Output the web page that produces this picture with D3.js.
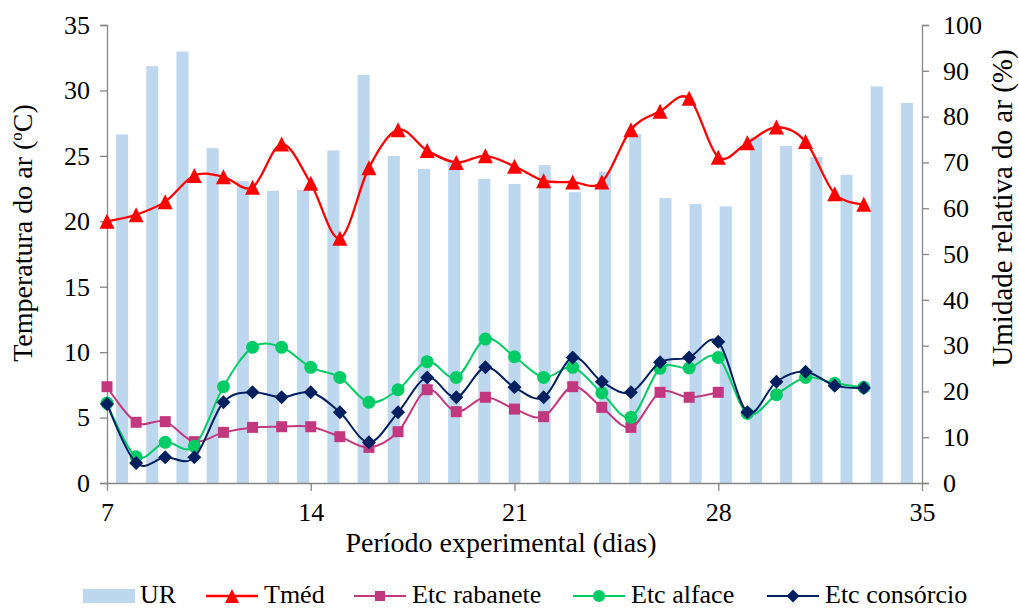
<!DOCTYPE html>
<html>
<head>
<meta charset="utf-8">
<script src="https://cdn.jsdelivr.net/npm/d3@7"></script>
<style>
  html, body { margin: 0; padding: 0; background: #ffffff; }
  svg { display: block; }
  #chart, #chart text, #chart tspan { font-family: "Liberation Serif", "Times New Roman", Tinos !important; }
</style>
</head>
<body>
<svg id="chart" width="1019" height="608" font-family="Liberation Serif"></svg>
<script>
// Experimental days (one observation per day)
const days = [7, 8, 9, 10, 11, 12, 13, 14, 15, 16, 17, 18, 19, 20, 21, 22, 23, 24, 25, 26, 27, 28, 29, 30, 31, 32, 33];

// Relative humidity (%), right axis
const ur = [76.1, 91.0, 94.2, 73.1, 65.9, 63.8, 64.0, 72.6, 89.1, 71.4,
            68.6, 70.2, 66.4, 65.3, 69.4, 63.5, 68.0, 76.2, 62.2, 60.9,
            60.4, 75.5, 73.6, 71.2, 67.3, 86.6, 83.0];

// Mean air temperature (ºC), left axis
const tmed = [20.0, 20.5, 21.5, 23.5, 23.4, 22.6, 25.9, 22.9, 18.7, 24.1,
              27.0, 25.4, 24.5, 25.0, 24.2, 23.1, 23.0, 23.0, 27.0, 28.4,
              29.4, 24.9, 26.0, 27.2, 26.1, 22.1, 21.3];

// Crop evapotranspiration (mm), left axis
const etcRabanete = [7.36, 4.64, 4.69, 3.16, 3.87, 4.25, 4.30, 4.30, 3.54, 2.72,
                     3.92, 7.13, 5.45, 6.55, 5.65, 5.07, 7.36, 5.78, 4.25, 6.93,
                     6.55, 6.93];
const etcAlface = [6.11, 2.0, 3.11, 2.80, 7.36, 10.37, 10.37, 8.84, 8.07, 6.17,
                   7.13, 9.27, 8.07, 11.0, 9.65, 8.07, 8.84, 6.88, 5.02, 8.76,
                   8.79, 9.60, 5.32, 6.75, 8.07, 7.62, 7.31];
const etcConsorcio = [6.04, 1.53, 1.96, 1.96, 6.17, 6.93, 6.55, 6.93, 5.40, 3.11,
                      5.40, 8.07, 6.55, 8.84, 7.31, 6.55, 9.60, 7.74, 6.93, 9.22,
                      9.60, 10.80, 5.40, 7.74, 8.51, 7.44, 7.26];

// Axis ticks
const xTicks = [7, 14, 21, 28, 35];
const yLeftTicks = [0, 5, 10, 15, 20, 25, 30, 35];
const yRightTicks = [0, 10, 20, 30, 40, 50, 60, 70, 80, 90, 100];

const FONT = "Liberation Serif";

const svg = d3.select("#chart");
const plot = { left: 107, right: 922, top: 25, bottom: 483 };
const axisColor = "#868686";

const x = d3.scaleLinear().domain([7, 35]).range([plot.left, plot.right]);
const xBand = d3.scaleBand().domain(days).range([plot.left, plot.right])
  .paddingInner(0.6).paddingOuter(0.3);
const yL = d3.scaleLinear().domain([0, 35]).range([plot.bottom, plot.top]);
const yR = d3.scaleLinear().domain([0, 100]).range([plot.bottom, plot.top]);

// Humidity bars
svg.append("g").selectAll("rect")
  .data(days.map((d, i) => ({ d, v: ur[i] })))
  .join("rect")
  .attr("x", p => xBand(p.d))
  .attr("width", xBand.bandwidth())
  .attr("y", p => yR(p.v))
  .attr("height", p => plot.bottom - yR(p.v))
  .attr("fill", "#BDD7EE");

// Axes
function styleAxis(g) {
  g.attr("font-family", FONT).attr("font-size", 26);
  g.select(".domain").attr("stroke", axisColor).attr("stroke-width", 1.3);
  g.selectAll(".tick line").attr("stroke", axisColor).attr("stroke-width", 1.3);
  g.selectAll(".tick text").attr("fill", "#000");
}

svg.append("g").attr("transform", `translate(${plot.left},0)`)
  .call(d3.axisLeft(yL).tickValues(yLeftTicks).tickSize(7).tickSizeOuter(7).tickPadding(10))
  .call(styleAxis);

svg.append("g").attr("transform", `translate(${plot.right},0)`)
  .call(d3.axisRight(yR).tickValues(yRightTicks).tickSize(7).tickSizeOuter(7).tickPadding(14))
  .call(styleAxis);

svg.append("g").attr("transform", `translate(0,${plot.bottom})`)
  .call(d3.axisBottom(x).tickValues(xTicks).tickSize(8).tickSizeOuter(0).tickPadding(12))
  .call(styleAxis);

// Axis titles
const yTitle = svg.append("text")
  .attr("transform", "translate(32,233) rotate(-90)")
  .attr("text-anchor", "middle")
  .attr("font-size", 28);
yTitle.append("tspan").text("Temperatura do ar (");
yTitle.append("tspan").attr("font-size", 17).attr("dy", -10).text("o");
yTitle.append("tspan").attr("dy", 10).text("C)");

svg.append("text")
  .attr("transform", "translate(1012,208) rotate(-90)")
  .attr("text-anchor", "middle")
  .attr("font-size", 29)
  .text("Umidade relativa do ar (%)");

svg.append("text")
  .attr("x", 501).attr("y", 552)
  .attr("text-anchor", "middle")
  .attr("font-size", 28)
  .text("Período experimental (dias)");

// Line series
const series = [
  { name: "Tméd", values: tmed, color: "#FF0000", width: 2.3, marker: "triangle", size: 15 },
  { name: "Etc rabanete", values: etcRabanete, color: "#C2387F", width: 2, marker: "square", size: 11 },
  { name: "Etc alface", values: etcAlface, color: "#00CC66", width: 2, marker: "circle", size: 13 },
  { name: "Etc consórcio", values: etcConsorcio, color: "#002060", width: 2, marker: "diamond", size: 14 }
];

function markerPath(type, s) {
  const h = s / 2;
  if (type === "triangle") return `M0,${-h}L${h},${h}L${-h},${h}Z`;
  if (type === "square") return `M${-h},${-h}H${h}V${h}H${-h}Z`;
  if (type === "diamond") return `M0,${-h}L${h},0L0,${h}L${-h},0Z`;
  return d3.arc()({ innerRadius: 0, outerRadius: h, startAngle: 0, endAngle: 2 * Math.PI });
}

const line = d3.line()
  .x(p => x(p.d))
  .y(p => yL(p.v))
  .curve(d3.curveCardinal.tension(0));

series.forEach(s => {
  const pts = s.values.map((v, i) => ({ d: days[i], v }));
  const g = svg.append("g");
  g.append("path").datum(pts)
    .attr("d", line)
    .attr("fill", "none")
    .attr("stroke", s.color)
    .attr("stroke-width", s.width);
  g.selectAll(".m").data(pts).join("path")
    .attr("transform", p => `translate(${x(p.d)},${yL(p.v)})`)
    .attr("d", markerPath(s.marker, s.size))
    .attr("fill", s.color);
});

// Legend
const legendY = 596;
const legendBase = 603;
const lg = svg.append("g").attr("font-size", 26);
lg.append("rect").attr("x", 83).attr("y", 589).attr("width", 52).attr("height", 14).attr("fill", "#BDD7EE");
lg.append("text").attr("x", 140).attr("y", legendBase).text("UR");

const legendItems = [
  { s: series[0], x0: 206 },
  { s: series[1], x0: 354 },
  { s: series[2], x0: 573 },
  { s: series[3], x0: 767 }
];
legendItems.forEach(it => {
  lg.append("line").attr("x1", it.x0).attr("x2", it.x0 + 52)
    .attr("y1", legendY).attr("y2", legendY)
    .attr("stroke", it.s.color).attr("stroke-width", it.s.width);
  lg.append("path").attr("transform", `translate(${it.x0 + 26},${legendY})`)
    .attr("d", markerPath(it.s.marker, it.s.size - 1)).attr("fill", it.s.color);
  lg.append("text").attr("x", it.x0 + 58).attr("y", legendBase).text(it.s.name);
});
</script>
</body>
</html>
